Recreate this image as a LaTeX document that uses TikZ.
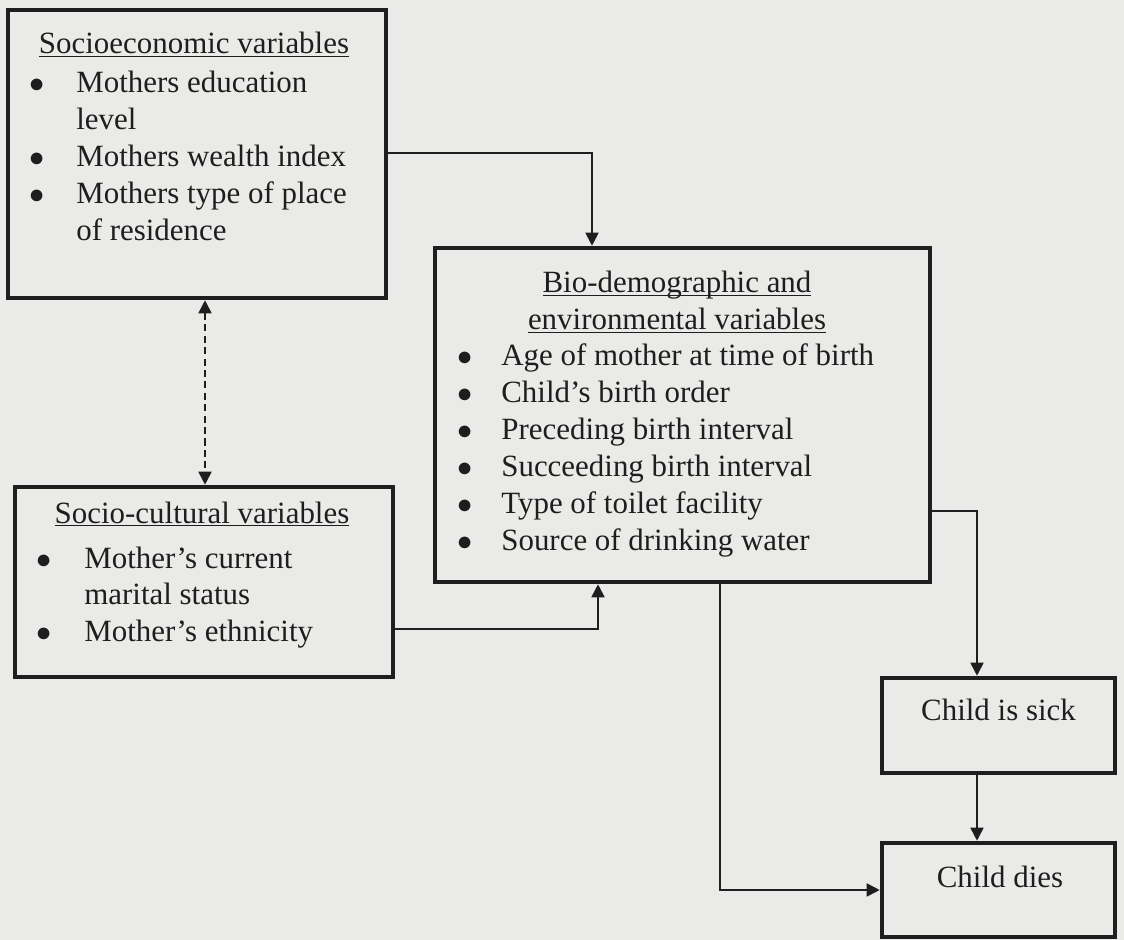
\documentclass[tikz,border=0pt]{standalone}
\usepackage{fontspec}
\setmainfont{Liberation Serif}
\usetikzlibrary{arrows.meta}

\definecolor{paper}{RGB}{234,234,232}
\definecolor{ink}{RGB}{30,30,30}
\newcommand{\headline}[1]{\underline{\smash{#1}}}
\newcommand{\dotmark}{$\bullet$}

\begin{document}
\begin{tikzpicture}[
    >={Triangle[length=2.6mm, width=2.6mm]},
    box/.style={draw=ink, line width=2.6pt, rectangle, inner sep=0pt},
    link/.style={->, draw=ink, line width=1pt},
    twoway/.style={<->, draw=ink, line width=1pt, dash pattern=on 4pt off 2.5pt},
    txt/.style={text=ink, inner sep=0pt, font=\fontsize{17.6}{21}\selectfont}
]

% Paper background (fixes the margins)
\fill[paper] (0,0) rectangle (22.48,-18.8);

% Draw boxes
\node[box, minimum width=7.56cm, minimum height=5.76cm] (socio) at (3.94,-3.08) {};
\node[box, minimum width=7.56cm, minimum height=3.8cm] (cultural) at (4.08,-11.64) {};
\node[box, minimum width=9.9cm, minimum height=6.68cm] (bio) at (13.65,-8.3) {};
\node[box, minimum width=4.66cm, minimum height=1.9cm] (sick) at (19.97,-14.51) {};
\node[box, minimum width=4.66cm, minimum height=1.88cm] (dies) at (19.97,-17.8) {};

% Box texts
\node[txt, anchor=base] (socioHead) at (3.88,-1.08) {\headline{Socioeconomic variables}};
\node[txt, anchor=base west] (socioList) at (0.58,-1.86) {%
    \begin{tabular}[t]{@{}p{0.94cm}@{}l@{}}
    \dotmark & Mothers education\\
             & level\\
    \dotmark & Mothers wealth index\\
    \dotmark & Mothers type of place\\
             & of residence
    \end{tabular}};

\node[txt, anchor=base] (culturalHead) at (4.04,-10.46) {\headline{Socio-cultural variables}};
\node[txt, anchor=base west] (culturalList) at (0.72,-11.36) {%
    \begin{tabular}[t]{@{}p{0.96cm}@{}l@{}}
    \dotmark & Mother's current\\
             & marital status\\
    \dotmark & Mother's ethnicity
    \end{tabular}};

\node[txt, anchor=base] (bioHead) at (13.54,-5.86) {%
    \begin{tabular}[t]{@{}c@{}}
    \headline{Bio-demographic and}\\
    \headline{environmental variables}
    \end{tabular}};
\node[txt, anchor=base west] (bioList) at (9.14,-7.32) {%
    \begin{tabular}[t]{@{}p{0.88cm}@{}l@{}}
    \dotmark & Age of mother at time of birth\\
    \dotmark & Child's birth order\\
    \dotmark & Preceding birth interval\\
    \dotmark & Succeeding birth interval\\
    \dotmark & Type of toilet facility\\
    \dotmark & Source of drinking water
    \end{tabular}};

\node[txt, anchor=base] (sickText) at (19.97,-14.4) {Child is sick};
\node[txt, anchor=base] (diesText) at (20.0,-17.74) {Child dies};

% Draw connectors
\draw[link] (socio.east |- 0,-3.06) -| (11.84,0 |- bio.north);
\draw[link] (cultural.east |- 0,-12.58) -| (11.96,0 |- bio.south);
\draw[link] (bio.east |- 0,-10.22) -| (19.54,0 |- sick.north);
\draw[link] (19.54,0 |- sick.south) -- (19.54,0 |- dies.north);
\draw[link] (14.4,0 |- bio.south) |- (dies.west);
\draw[twoway] (4.1,0 |- socio.south) -- (4.1,0 |- cultural.north);

\end{tikzpicture}
\end{document}
